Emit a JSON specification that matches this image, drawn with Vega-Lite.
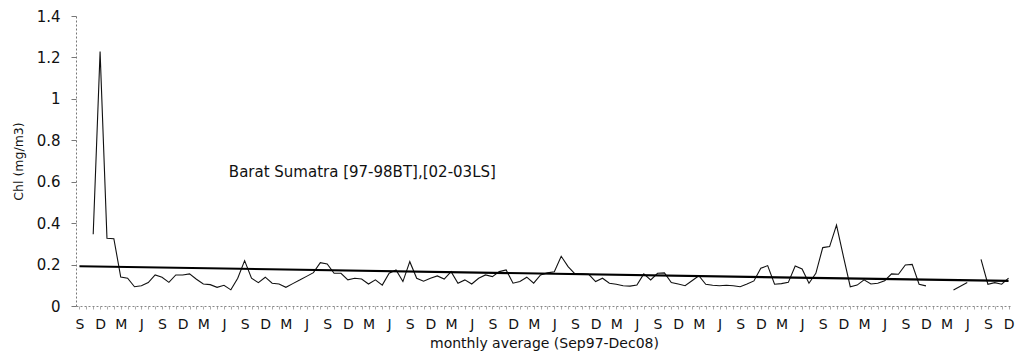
{
  "$schema": "https://vega.github.io/schema/vega-lite/v6.json",
  "width": 936,
  "height": 290,
  "autosize": {"type": "none"},
  "padding": {"left": 76, "top": 16, "right": 7, "bottom": 48},
  "background": "white",
  "config": {"view": {"stroke": null}, "font": "DejaVu Sans"},
  "datasets": {
    "chl": [
      {"month": "1997-09", "chl": null}, {"month": "1997-10", "chl": null}, {"month": "1997-11", "chl": 0.346}, {"month": "1997-12", "chl": 1.228},
      {"month": "1998-01", "chl": 0.327}, {"month": "1998-02", "chl": 0.325}, {"month": "1998-03", "chl": 0.14}, {"month": "1998-04", "chl": 0.134},
      {"month": "1998-05", "chl": 0.093}, {"month": "1998-06", "chl": 0.098}, {"month": "1998-07", "chl": 0.113}, {"month": "1998-08", "chl": 0.15},
      {"month": "1998-09", "chl": 0.139}, {"month": "1998-10", "chl": 0.114}, {"month": "1998-11", "chl": 0.15}, {"month": "1998-12", "chl": 0.15},
      {"month": "1999-01", "chl": 0.155}, {"month": "1999-02", "chl": 0.129}, {"month": "1999-03", "chl": 0.106}, {"month": "1999-04", "chl": 0.103},
      {"month": "1999-05", "chl": 0.09}, {"month": "1999-06", "chl": 0.1}, {"month": "1999-07", "chl": 0.078}, {"month": "1999-08", "chl": 0.134},
      {"month": "1999-09", "chl": 0.219}, {"month": "1999-10", "chl": 0.134}, {"month": "1999-11", "chl": 0.113}, {"month": "1999-12", "chl": 0.139},
      {"month": "2000-01", "chl": 0.11}, {"month": "2000-02", "chl": 0.106}, {"month": "2000-03", "chl": 0.09}, {"month": "2000-04", "chl": 0.108},
      {"month": "2000-05", "chl": 0.125}, {"month": "2000-06", "chl": 0.143}, {"month": "2000-07", "chl": 0.161}, {"month": "2000-08", "chl": 0.209},
      {"month": "2000-09", "chl": 0.203}, {"month": "2000-10", "chl": 0.158}, {"month": "2000-11", "chl": 0.158}, {"month": "2000-12", "chl": 0.126},
      {"month": "2001-01", "chl": 0.134}, {"month": "2001-02", "chl": 0.13}, {"month": "2001-03", "chl": 0.106}, {"month": "2001-04", "chl": 0.126},
      {"month": "2001-05", "chl": 0.101}, {"month": "2001-06", "chl": 0.158}, {"month": "2001-07", "chl": 0.174}, {"month": "2001-08", "chl": 0.118},
      {"month": "2001-09", "chl": 0.214}, {"month": "2001-10", "chl": 0.134}, {"month": "2001-11", "chl": 0.12}, {"month": "2001-12", "chl": 0.134},
      {"month": "2002-01", "chl": 0.145}, {"month": "2002-02", "chl": 0.13}, {"month": "2002-03", "chl": 0.166}, {"month": "2002-04", "chl": 0.11},
      {"month": "2002-05", "chl": 0.126}, {"month": "2002-06", "chl": 0.106}, {"month": "2002-07", "chl": 0.134}, {"month": "2002-08", "chl": 0.15},
      {"month": "2002-09", "chl": 0.142}, {"month": "2002-10", "chl": 0.166}, {"month": "2002-11", "chl": 0.174}, {"month": "2002-12", "chl": 0.11},
      {"month": "2003-01", "chl": 0.118}, {"month": "2003-02", "chl": 0.139}, {"month": "2003-03", "chl": 0.11}, {"month": "2003-04", "chl": 0.15},
      {"month": "2003-05", "chl": 0.16}, {"month": "2003-06", "chl": 0.165}, {"month": "2003-07", "chl": 0.24}, {"month": "2003-08", "chl": 0.19},
      {"month": "2003-09", "chl": 0.155}, {"month": "2003-10", "chl": 0.155}, {"month": "2003-11", "chl": 0.153}, {"month": "2003-12", "chl": 0.118},
      {"month": "2004-01", "chl": 0.134}, {"month": "2004-02", "chl": 0.11}, {"month": "2004-03", "chl": 0.105}, {"month": "2004-04", "chl": 0.098},
      {"month": "2004-05", "chl": 0.096}, {"month": "2004-06", "chl": 0.101}, {"month": "2004-07", "chl": 0.155}, {"month": "2004-08", "chl": 0.126},
      {"month": "2004-09", "chl": 0.158}, {"month": "2004-10", "chl": 0.16}, {"month": "2004-11", "chl": 0.113}, {"month": "2004-12", "chl": 0.106},
      {"month": "2005-01", "chl": 0.098}, {"month": "2005-02", "chl": 0.122}, {"month": "2005-03", "chl": 0.146}, {"month": "2005-04", "chl": 0.105},
      {"month": "2005-05", "chl": 0.1}, {"month": "2005-06", "chl": 0.098}, {"month": "2005-07", "chl": 0.1}, {"month": "2005-08", "chl": 0.098},
      {"month": "2005-09", "chl": 0.093}, {"month": "2005-10", "chl": 0.106}, {"month": "2005-11", "chl": 0.121}, {"month": "2005-12", "chl": 0.182},
      {"month": "2006-01", "chl": 0.195}, {"month": "2006-02", "chl": 0.105}, {"month": "2006-03", "chl": 0.108}, {"month": "2006-04", "chl": 0.114},
      {"month": "2006-05", "chl": 0.193}, {"month": "2006-06", "chl": 0.179}, {"month": "2006-07", "chl": 0.11}, {"month": "2006-08", "chl": 0.158},
      {"month": "2006-09", "chl": 0.282}, {"month": "2006-10", "chl": 0.287}, {"month": "2006-11", "chl": 0.391}, {"month": "2006-12", "chl": 0.24},
      {"month": "2007-01", "chl": 0.093}, {"month": "2007-02", "chl": 0.101}, {"month": "2007-03", "chl": 0.126}, {"month": "2007-04", "chl": 0.106},
      {"month": "2007-05", "chl": 0.11}, {"month": "2007-06", "chl": 0.122}, {"month": "2007-07", "chl": 0.155}, {"month": "2007-08", "chl": 0.153},
      {"month": "2007-09", "chl": 0.198}, {"month": "2007-10", "chl": 0.201}, {"month": "2007-11", "chl": 0.105}, {"month": "2007-12", "chl": 0.097},
      {"month": "2008-01", "chl": null}, {"month": "2008-02", "chl": null}, {"month": "2008-03", "chl": null}, {"month": "2008-04", "chl": 0.077},
      {"month": "2008-05", "chl": 0.095}, {"month": "2008-06", "chl": 0.113}, {"month": "2008-07", "chl": null}, {"month": "2008-08", "chl": 0.225},
      {"month": "2008-09", "chl": 0.105}, {"month": "2008-10", "chl": 0.113}, {"month": "2008-11", "chl": 0.105}, {"month": "2008-12", "chl": 0.135}
    ],
    "trend": [
      {"month": "1997-09", "trend": 0.192},
      {"month": "2008-12", "trend": 0.121}
    ]
  },
  "layer": [
    {
      "data": {"name": "chl"},
      "mark": {"type": "line", "color": "#111", "strokeWidth": 1.1, "invalid": "break-paths-show-domains"},
      "encoding": {
        "x": {
          "field": "month", "type": "ordinal",
          "scale": {"type": "point", "padding": 0.5},
          "axis": {
            "title": "monthly average (Sep97-Dec08)",
            "labelExpr": "slice(datum.value,5)=='09' ? 'S' : slice(datum.value,5)=='12' ? 'D' : slice(datum.value,5)=='03' ? 'M' : slice(datum.value,5)=='06' ? 'J' : ''",
            "labelAngle": 0, "labelOverlap": false, "grid": false,
            "domainDash": [2, 2], "domainColor": "#888", "tickColor": "#aaa", "tickSize": 3,
            "labelPadding": 8, "labelFontSize": 14, "labelColor": "#111", "labelFont": "DejaVu Sans",
            "titleFont": "DejaVu Sans", "titleFontSize": 14, "titleFontWeight": "normal", "titleColor": "#111",
            "titleY": 37, "titleBaseline": "middle"
          }
        },
        "y": {
          "field": "chl", "type": "quantitative",
          "scale": {"domain": [0, 1.4]},
          "axis": {
            "title": "Chl (mg/m3)", "values": [0, 0.2, 0.4, 0.6, 0.8, 1, 1.2, 1.4], "format": "~g", "grid": false,
            "domainDash": [2, 2], "domainColor": "#777", "tickColor": "#777", "tickSize": 5,
            "labelPadding": 11, "labelFontSize": 15, "labelColor": "#111", "labelFont": "DejaVu Sans",
            "titleFont": "DejaVu Sans", "titleFontSize": 12.5, "titleFontWeight": "normal", "titleColor": "#111",
            "titleX": -58, "titleY": 145, "titleBaseline": "middle"
          }
        }
      }
    },
    {
      "data": {"name": "trend"},
      "mark": {"type": "line", "color": "#000", "strokeWidth": 2.2},
      "encoding": {
        "x": {"field": "month", "type": "ordinal", "title": "monthly average (Sep97-Dec08)"},
        "y": {"field": "trend", "type": "quantitative", "title": "Chl (mg/m3)"}
      }
    },
    {
      "data": {"values": [{}]},
      "mark": {"type": "text", "text": "Barat Sumatra [97-98BT],[02-03LS]", "align": "left", "baseline": "middle", "fontSize": 15, "dx": -2, "color": "#111", "font": "DejaVu Sans"},
      "encoding": {
        "x": {"datum": "1999-07", "type": "ordinal"},
        "y": {"datum": 0.647, "type": "quantitative"}
      }
    }
  ]
}
